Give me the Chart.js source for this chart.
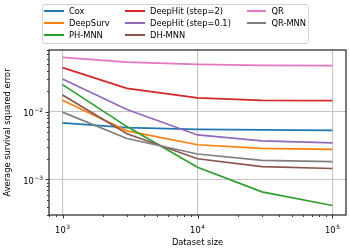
<!DOCTYPE html>
<html lang="en">
<head>
    <meta charset="UTF-8">
    <title>Survival error vs dataset size</title>
    <script src="https://cdn.jsdelivr.net/npm/chart.js@4"></script>
    <style>
        body { margin: 0; background: #fff; }
        #wrap { position: relative; width: 350px; height: 250px; }
        #legend {
            position: absolute; left: 42px; top: 4px; width: 265px; height: 38px;
            border: 1px solid #d4d4d4; border-radius: 3px; background: rgba(255,255,255,0.85);
            font-family: "DejaVu Sans", sans-serif; font-size: 8.3px; color: #000;
        }
        .item { position: absolute; height: 10px; line-height: 10px; white-space: nowrap; }
        .item span.h { display: inline-block; width: 19.5px; height: 2px; vertical-align: middle; margin-right: 5.5px; position: relative; top: -1px; }
    </style>
</head>
<body>
<div id="wrap">
    <canvas id="chart" width="350" height="250"></canvas>
    <div id="legend"></div>
</div>
<script>
    // dataset sizes (x) and average survival squared error per method
    const sizes = [1000, 3000, 10000, 30000, 100000];
    const seriesNames = ['Cox', 'DeepSurv', 'PH-MNN', 'DeepHit (step=2)', 'DeepHit (step=0.1)', 'DH-MNN', 'QR', 'QR-MNN'];
    const seriesColors = ['#1f77b4', '#ff7f0e', '#2ca02c', '#d62728', '#9467bd', '#8c564b', '#e377c2', '#7f7f7f'];

    const cox      = [0.0068, 0.0058, 0.00547, 0.00535, 0.00528];
    const deepSurv = [0.0146, 0.0052, 0.00324, 0.00287, 0.00277];
    const phMnn    = [0.0249, 0.0060, 0.00151, 0.000656, 0.000414];
    const deepHit2 = [0.0442, 0.0219, 0.0159, 0.0146, 0.0145];
    const deepHit01 = [0.0302, 0.0107, 0.00452, 0.0037, 0.00346];
    const dhMnn    = [0.0175, 0.0047, 0.00202, 0.00155, 0.00145];
    const qr       = [0.0625, 0.0534, 0.0494, 0.0478, 0.0472];
    const qrMnn    = [0.0098, 0.0040, 0.00237, 0.00191, 0.00183];
    const seriesValues = [cox, deepSurv, phMnn, deepHit2, deepHit01, dhMnn, qr, qrMnn];

    // major tick labels: value -> exponent of 10
    const xTickValues = [1000, 10000, 100000];
    const xTickExps = ['3', '4', '5'];
    const yTickValues = [0.001, 0.01];
    const yTickExps = ['\u22123', '\u22122'];

    const FONT = { family: 'DejaVu Sans', size: 8.3 };

    // legend, matplotlib style (3 columns, filled column by column)
    const colLeft = [1, 82, 203.5];
    const legend = document.getElementById('legend');
    seriesNames.forEach((name, i) => {
        const el = document.createElement('div');
        el.className = 'item';
        el.style.left = colLeft[Math.floor(i / 3)] + 'px';
        el.style.top = (1.3 + (i % 3) * 12) + 'px';
        el.innerHTML = `<span class="h" style="background:${seriesColors[i]}"></span>${name}`;
        legend.appendChild(el);
    });

    function logTicks(min, max) {
        const ticks = [];
        for (let e = -5; e <= 6; e++) {
            for (let k = 1; k <= 9; k++) {
                const v = k * Math.pow(10, e);
                if (v >= min && v <= max) ticks.push({ value: v, major: k === 1 });
            }
        }
        return ticks;
    }

    // draws "10" with a raised exponent, like matplotlib's mathtext labels
    function powerLabel(ctx, exp, x, baseline, align) {
        ctx.font = '8.3px "DejaVu Sans"';
        const wb = ctx.measureText('10').width;
        ctx.font = '5.9px "DejaVu Sans"';
        const we = ctx.measureText(exp).width;
        const total = wb + 0.5 + we;
        const start = align === 'center' ? x - total / 2 : x - total;
        ctx.font = '8.3px "DejaVu Sans"';
        ctx.fillText('10', start, baseline);
        ctx.font = '5.9px "DejaVu Sans"';
        ctx.fillText(exp, start + wb + 0.5, baseline - 3.6);
    }

    // matplotlib-like tick marks, tick labels and a full frame
    const framePlugin = {
        id: 'frame',
        afterDraw(chart) {
            const { ctx, chartArea: a, scales } = chart;
            ctx.save();
            ctx.strokeStyle = '#333';
            ctx.lineWidth = 1;
            scales.x.ticks.forEach(t => {
                const px = Math.round(scales.x.getPixelForValue(t.value)) + 0.5;
                ctx.beginPath();
                ctx.moveTo(px, a.bottom);
                ctx.lineTo(px, a.bottom + (t.major ? 3.5 : 2));
                ctx.stroke();
            });
            scales.y.ticks.forEach(t => {
                const py = Math.round(scales.y.getPixelForValue(t.value)) + 0.5;
                ctx.beginPath();
                ctx.moveTo(a.left, py);
                ctx.lineTo(a.left - (t.major ? 3.5 : 2), py);
                ctx.stroke();
            });
            ctx.lineWidth = 1.3;
            ctx.strokeRect(a.left, a.top, a.right - a.left, a.bottom - a.top);

            ctx.fillStyle = '#000';
            ctx.textBaseline = 'alphabetic';
            ctx.textAlign = 'left';
            xTickValues.forEach((v, i) => {
                powerLabel(ctx, xTickExps[i], scales.x.getPixelForValue(v), a.bottom + 18, 'center');
            });
            yTickValues.forEach((v, i) => {
                powerLabel(ctx, yTickExps[i], a.left - 6, scales.y.getPixelForValue(v) + 4.3, 'right');
            });
            ctx.restore();
        }
    };

    const gridColor = c => (c.tick && c.tick.major ? '#c4c4c4' : 'rgba(0,0,0,0)');

    new Chart(document.getElementById('chart'), {
        type: 'line',
        data: {
            datasets: seriesNames.map((name, i) => ({
                label: name,
                data: sizes.map((s, j) => ({ x: s, y: seriesValues[i][j] })),
                borderColor: seriesColors[i],
                backgroundColor: seriesColors[i],
                borderWidth: 1.7,
                pointRadius: 0,
                tension: 0,
                order: seriesNames.length - i
            }))
        },
        options: {
            responsive: false,
            animation: false,
            events: [],
            layout: { padding: { top: 50, right: 4, left: 0, bottom: 0 } },
            plugins: { legend: { display: false }, tooltip: { enabled: false } },
            scales: {
                x: {
                    type: 'logarithmic',
                    min: 794, max: 125900,
                    afterBuildTicks: s => { s.ticks = logTicks(s.min, s.max); },
                    afterFit: s => { s.height = 35; },
                    grid: { color: gridColor, lineWidth: 1.1, drawTicks: false },
                    border: { display: false },
                    ticks: { autoSkip: false, maxRotation: 0, font: FONT, callback: () => '' },
                    title: { display: true, text: 'Dataset size', font: FONT, color: '#000', padding: { top: 0, bottom: 2 } }
                },
                y: {
                    type: 'logarithmic',
                    min: 0.000322, max: 0.0804,
                    afterBuildTicks: s => { s.ticks = logTicks(s.min, s.max); },
                    afterFit: s => { s.width = 49; },
                    grid: { color: gridColor, lineWidth: 1.1, drawTicks: false },
                    border: { display: false },
                    ticks: { autoSkip: false, font: FONT, callback: () => '' },
                    title: { display: true, text: 'Average survival squared error', font: FONT, color: '#000', padding: { top: 3, bottom: 0 } }
                }
            }
        },
        plugins: [framePlugin]
    });
</script>
</body>
</html>
